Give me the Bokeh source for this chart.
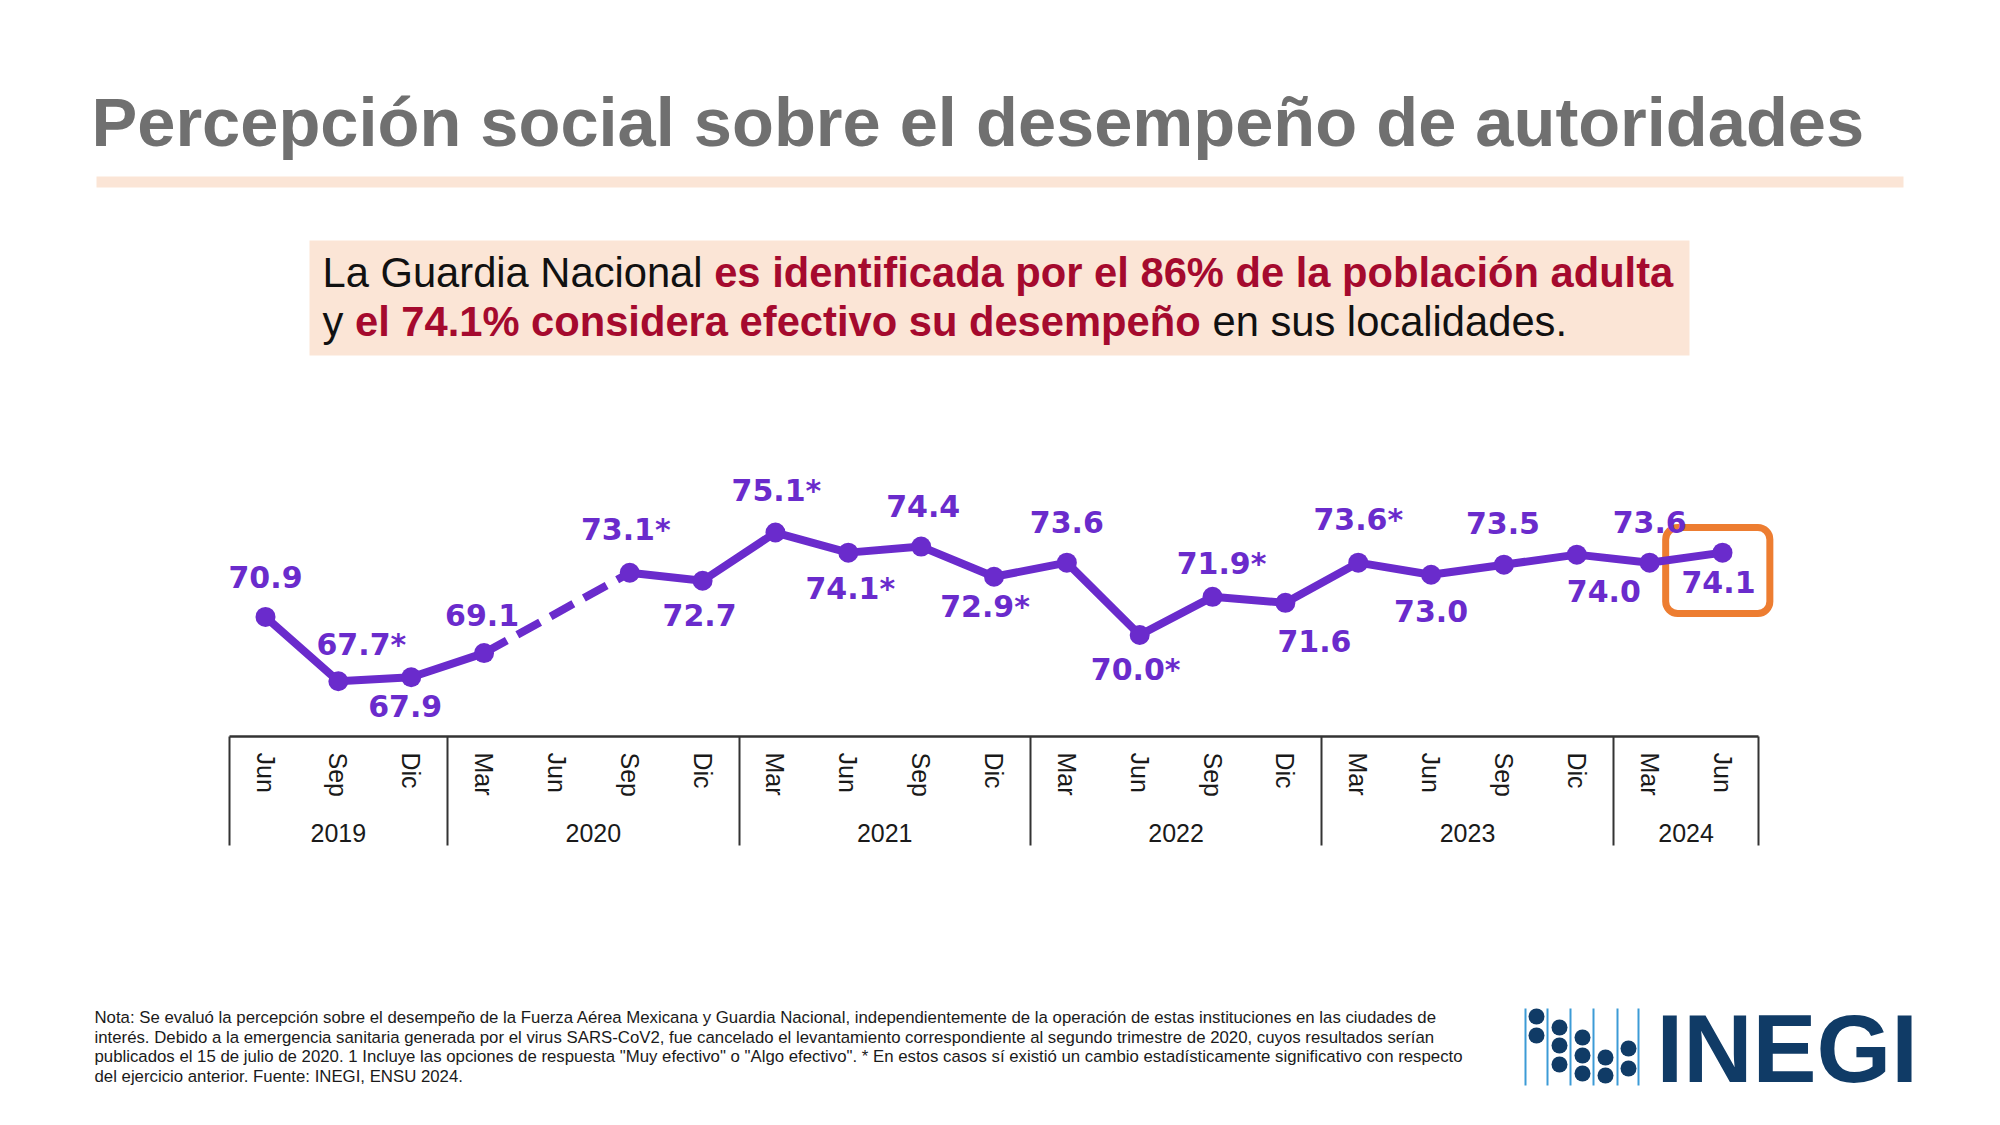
import math
from bokeh.plotting import figure
from bokeh.models import (ColumnDataSource, LinearAxis, FixedTicker, Range1d,
                          LabelSet, BoxAnnotation)
from bokeh.layouts import column
from bokeh.core.properties import value
from bokeh.embed import file_html
from bokeh.resources import INLINE

# ---------------- data ----------------
years = ["2019", "2019", "2019",
         "2020", "2020", "2020", "2020",
         "2021", "2021", "2021", "2021",
         "2022", "2022", "2022", "2022",
         "2023", "2023", "2023", "2023",
         "2024", "2024"]
months = ["Jun", "Sep", "Dic",
          "Mar", "Jun", "Sep", "Dic",
          "Mar", "Jun", "Sep", "Dic",
          "Mar", "Jun", "Sep", "Dic",
          "Mar", "Jun", "Sep", "Dic",
          "Mar", "Jun"]
values = [70.9, 67.7, 67.9,
          69.1, None, 73.1, 72.7,
          75.1, 74.1, 74.4, 72.9,
          73.6, 70.0, 71.9, 71.6,
          73.6, 73.0, 73.5, 74.0,
          73.6, 74.1]
significant = [False, True, False,
               False, False, True, False,
               True, True, False, True,
               False, True, True, False,
               True, False, False, False,
               False, False]

# label placement (screen px, +y = up), one per quarter
label_dx = [0, 23, -6, -2, 0, -4, -3, 1, 2, 2, -9, 0, -4, 9, 29, 0, 0, -1, 27, 0, -4]
label_dy = [40, 37, -29, 38, 0, 43, -34, 42, -36, 41, -30, 41, -34, 33, -38, 43, -36, 42, -36, 41, -29]

TITLE = "Percepción social sobre el desempeño de autoridades"
NOTE_LINES = [
    "Nota: Se evaluó la percepción sobre el desempeño de la Fuerza Aérea Mexicana y Guardia Nacional, independientemente de la operación de estas instituciones en las ciudades de",
    "interés. Debido a la emergencia sanitaria generada por el virus SARS-CoV2, fue cancelado el levantamiento correspondiente al segundo trimestre de 2020, cuyos resultados serían",
    "publicados el 15 de julio de 2020. 1 Incluye las opciones de respuesta \"Muy efectivo\" o \"Algo efectivo\". * En estos casos sí existió un cambio estadísticamente significativo con respecto",
    "del ejercicio anterior. Fuente: INEGI, ENSU 2024.",
]

PURPLE = "#6A2BCC"
ORANGE = "#ED7D31"
PEACH = "#FBE5D6"
RED = "#A50A2E"
GREY_TITLE = "#707070"
NAVY = "#103B66"
LBLUE = "#3C9BD6"
AXIS_C = "#333333"

W = 1992          # figure width
X0 = 265          # page x of first quarter
PX = 72.85        # px per quarter

# Arial / Liberation Sans advance widths (per 1000 em)
REG = {' ': 278, 'L': 556, 'a': 556, 'G': 778, 'u': 556, 'r': 333, 'd': 556, 'i': 222,
       'N': 722, 'c': 500, 'o': 556, 'n': 556, 'l': 222, 'y': 500}
BOLD = {' ': 278, 'e': 556, 'l': 278, '7': 556, '4': 556, '.': 278, '1': 556, '%': 889,
        'c': 556, 'o': 611, 'n': 611, 's': 556, 'i': 278, 'd': 611, 'r': 389, 'a': 556,
        'f': 333, 't': 333, 'v': 556, 'u': 611, 'm': 889, 'p': 611, 'ñ': 611}


def tw(s, table, size):
    return sum(table.get(ch, 556) for ch in s) * size / 1000.0


def page_fig(h, y0):
    p = figure(width=W, height=h, x_range=Range1d(0, W), y_range=Range1d(y0 + h, y0),
               output_backend="svg", toolbar_location=None,
               x_axis_location=None, y_axis_location=None, min_border=0)
    p.outline_line_color = None
    p.grid.visible = False
    return p


# ---------------- header ----------------
hdr = page_fig(440, 0)
hdr.text(x=[91], y=[122], text=[TITLE], text_font=value("Liberation Sans"),
         text_font_style="bold", text_font_size="68.6px", text_color=GREY_TITLE,
         text_baseline="middle", text_align="left")
hdr.quad(left=[96], right=[1903], top=[176], bottom=[187], fill_color=PEACH, line_color=None)
hdr.quad(left=[309], right=[1689], top=[240], bottom=[355], fill_color=PEACH, line_color=None)

FS = 41.7
x0 = 322
l1a = "La Guardia Nacional"
l1b = "es identificada por el 86% de la población adulta"
l2a = "y"
l2b = "el 74.1% considera efectivo su desempeño"
l2c = "en sus localidades."
Y1, Y2 = 272, 321
segs = [
    (x0, Y1, l1a, "normal", "#111111"),
    (x0 + tw(l1a + " ", REG, FS), Y1, l1b, "bold", RED),
    (x0, Y2, l2a, "normal", "#111111"),
    (x0 + tw(l2a + " ", REG, FS), Y2, l2b, "bold", RED),
    (x0 + tw(l2a + " ", REG, FS) + tw(l2b + " ", BOLD, FS), Y2, l2c, "normal", "#111111"),
]
for sx, sy, s, st, col in segs:
    hdr.text(x=[sx], y=[sy], text=[s], text_font=value("Liberation Sans"), text_font_style=st,
             text_font_size=f"{FS}px", text_color=col, text_baseline="middle", text_align="left")

# ---------------- chart ----------------
n = len(months)
idx = list(range(n))
yvals = [float("nan") if v is None else v for v in values]

pc = figure(width=W, height=520,
            x_range=Range1d((0 - X0) / PX, (W - X0) / PX),
            y_range=Range1d(64.95, 79.68),
            output_backend="svg", toolbar_location=None,
            x_axis_location=None, y_axis_location=None,
            min_border_left=0, min_border_right=0, min_border_top=0, min_border_bottom=224)
pc.outline_line_color = None
pc.grid.visible = False

# dashed connector over missing quarters
for i, v in enumerate(values):
    if v is None:
        a, b = i - 1, i + 1
        while values[a] is None:
            a -= 1
        while values[b] is None:
            b += 1
        pc.line(x=[a, b], y=[values[a], values[b]], line_color=PURPLE, line_width=8,
                line_dash="26 12")

pc.line(x=idx, y=yvals, line_color=PURPLE, line_width=8, line_join="round")
valid = [i for i in idx if values[i] is not None]
pc.scatter(x=valid, y=[values[i] for i in valid], size=20, fill_color=PURPLE, line_color=None)

labels = [f"{values[i]:.1f}" + ("*" if significant[i] else "") for i in valid]
lsrc = ColumnDataSource(dict(x=valid, y=[values[i] for i in valid], label=labels,
                             dx=[label_dx[i] for i in valid], dy=[label_dy[i] for i in valid]))
pc.add_layout(LabelSet(x="x", y="y", text="label", x_offset="dx", y_offset="dy", source=lsrc,
                       text_font=value("DejaVu Sans"), text_font_style="bold",
                       text_font_size="30px", text_color=PURPLE,
                       text_align="center", text_baseline="middle"))

last = valid[-1]
pc.add_layout(BoxAnnotation(left=last - 0.78, right=last + 0.65,
                            top=values[last] + 1.25, bottom=values[last] - 3.03,
                            fill_color=None, fill_alpha=0, line_color=ORANGE, line_alpha=1.0,
                            line_width=7, border_radius=12, level="underlay"))

# year boundaries and centers
seps = [-0.5]
centers = {}
start = 0
for i in range(1, n + 1):
    if i == n or years[i] != years[i - 1]:
        seps.append(i - 0.5)
        centers[(start + i - 1) / 2] = years[start]
        start = i

SEP_LEN = 109
ax = LinearAxis(ticker=FixedTicker(ticks=idx, minor_ticks=seps),
                major_label_overrides={i: m for i, m in enumerate(months)},
                major_label_orientation="vertical", bounds=(-0.5, n - 0.5))
ax.major_tick_out = 0
ax.major_tick_in = 0
ax.major_tick_line_color = None
ax.minor_tick_in = 0
ax.minor_tick_out = SEP_LEN
ax.minor_tick_line_color = AXIS_C
ax.minor_tick_line_width = 2
ax.axis_line_color = AXIS_C
ax.axis_line_width = 2.5
ax.major_label_text_font = "Liberation Sans"
ax.major_label_text_font_size = "25px"
ax.major_label_text_color = "#1a1a1a"
ax.major_label_standoff = 16 - SEP_LEN

ay = LinearAxis(ticker=FixedTicker(ticks=list(centers.keys())),
                major_label_overrides=centers, bounds=(-0.5, n - 0.5))
ay.axis_line_color = None
ay.major_tick_line_color = None
ay.minor_tick_line_color = None
ay.major_tick_out = 0
ay.major_tick_in = 0
ay.major_label_text_font = "Liberation Sans"
ay.major_label_text_font_size = "25px"
ay.major_label_text_color = "#1a1a1a"
ay.major_label_standoff = 24

pc.add_layout(ax, "below")
pc.add_layout(ay, "below")

# ---------------- footer ----------------
ftr = page_fig(157, 960)
for k, line in enumerate(NOTE_LINES):
    ftr.text(x=[94], y=[1017 + k * 19.5], text=[line], text_font=value("Liberation Sans"),
             text_font_size="16.8px", text_color="#1a1a1a", text_baseline="middle", text_align="left")

# INEGI logo
logo_lines_x = [1525, 1547, 1570, 1593, 1617, 1638]
ftr.segment(x0=logo_lines_x, y0=[1008] * 6, x1=logo_lines_x, y1=[1085] * 6,
            line_color=LBLUE, line_width=2)
dots_x = [1536, 1536, 1559, 1559, 1559, 1582, 1582, 1582, 1605, 1605, 1628, 1628]
dots_y = [1016, 1035, 1027, 1045, 1064, 1037, 1055, 1073, 1057, 1075, 1048, 1068]
ftr.scatter(x=dots_x, y=dots_y, size=16, fill_color=NAVY, line_color=None)
ftr.text(x=[1656], y=[1048], text=["INEGI"], text_font=value("Liberation Sans"),
         text_font_style="bold", text_font_size="96px", text_color=NAVY,
         text_baseline="middle", text_align="left")

layout = column(hdr, pc, ftr, spacing=0)
open("out.html", "w").write(file_html(layout, INLINE))
